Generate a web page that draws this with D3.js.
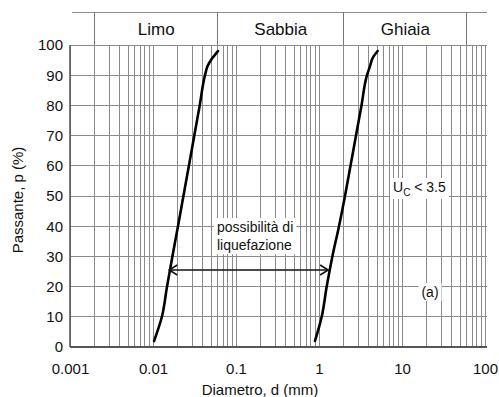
<!DOCTYPE html>
<html><head><meta charset="utf-8">
<script src="https://cdn.jsdelivr.net/npm/d3@7/dist/d3.min.js"></script>
<style>body{margin:0;background:#fff}svg{display:block}text{font-family:"Liberation Sans",Arial,sans-serif;fill:#111}</style>
</head><body><svg id="c" width="499" height="397"></svg>
<script>
const xTicks = [0.001, 0.01, 0.1, 1, 10, 100];
const xTickLabels = ["0.001", "0.01", "0.1", "1", "10", "100"];
const yTicks = [0, 10, 20, 30, 40, 50, 60, 70, 80, 90, 100];
const bandBounds = [0.002, 0.06, 2, 60];
const bandNames = ["Limo", "Sabbia", "Ghiaia"];
const curveLeftD = [0.0103, 0.0128, 0.01475, 0.01713, 0.0200, 0.02325, 0.02707, 0.03145, 0.03653, 0.04231, 0.0454, 0.0514, 0.0607];
const curveLeftP = [2, 10, 20, 30, 40, 50, 60, 70, 80, 90, 93, 95.5, 98];
const curveRightD = [0.895, 1.078, 1.238, 1.45, 1.742, 2.057, 2.396, 2.791, 3.251, 3.787, 4.117, 4.413, 5.095];
const curveRightP = [2, 10, 20, 30, 40, 50, 60, 70, 80, 90, 93, 95.6, 98];
const arrowP = 25.5;
const arrowD = [0.0157, 1.29];

const svg = d3.select("#c");
const x = d3.scaleLog().domain([0.001, 100]).range([70, 485]);
const y = d3.scaleLinear().domain([0, 100]).range([347, 45]);

// vertical grid
const vGrid = [];
[0.001, 0.01, 0.1, 1, 10].forEach(d => { for (let k = 1; k <= 9; k++) vGrid.push(+(d * k).toPrecision(3)); });
vGrid.push(100);
svg.append("g").selectAll("line").data(vGrid).join("line")
  .attr("x1", d => x(d)).attr("x2", d => x(d)).attr("y1", y(0)).attr("y2", y(100))
  .attr("stroke", "#8a8a8a").attr("stroke-width", 1).attr("shape-rendering", "crispEdges");
// horizontal grid
svg.append("g").selectAll("line").data(yTicks).join("line")
  .attr("x1", x(0.001)).attr("x2", x(100) + 2).attr("y1", d => y(d)).attr("y2", d => y(d))
  .attr("stroke", d => d === 0 ? "#555" : "#8a8a8a").attr("stroke-width", d => d === 0 ? 1.5 : 1).attr("shape-rendering", "crispEdges");
svg.append("line").attr("x1", x(0.001)).attr("x2", x(0.001)).attr("y1", y(0)).attr("y2", y(100))
  .attr("stroke", "#555").attr("stroke-width", 1.5);

// header band
const hTop = 12;
svg.append("line").attr("x1", x(0.001) + 2).attr("x2", x(100) + 2).attr("y1", hTop).attr("y2", hTop)
  .attr("stroke", "#8a8a8a").attr("shape-rendering", "crispEdges");
svg.append("g").selectAll("line").data(bandBounds).join("line")
  .attr("x1", d => x(d)).attr("x2", d => x(d)).attr("y1", hTop).attr("y2", y(100))
  .attr("stroke", "#777").attr("shape-rendering", "crispEdges");
svg.append("g").selectAll("text").data(bandNames).join("text")
  .attr("x", (d, i) => (x(bandBounds[i]) + x(bandBounds[i + 1])) / 2).attr("y", 35)
  .attr("text-anchor", "middle").attr("font-size", 17).attr("fill", "#000").text(d => d);

// axes (labels only)
const xAxis = svg.append("g").attr("transform", `translate(0,${y(0)})`)
  .call(d3.axisBottom(x).tickValues(xTicks).tickFormat((d, i) => xTickLabels[i]).tickSize(0).tickPadding(16));
xAxis.select(".domain").remove();
xAxis.selectAll("text").attr("font-size", 15).attr("font-family", "Liberation Sans, Arial, sans-serif").attr("fill", "#000");
const yAxis = svg.append("g").attr("transform", `translate(${x(0.001) - 7},0)`)
  .call(d3.axisLeft(y).tickValues(yTicks).tickSize(0).tickPadding(0));
yAxis.select(".domain").remove();
yAxis.selectAll("text").attr("font-size", 15).attr("font-family", "Liberation Sans, Arial, sans-serif").attr("fill", "#000");

svg.append("text").attr("x", 260).attr("y", 395).attr("text-anchor", "middle").attr("font-size", 15).attr("fill", "#000").text("Diametro, d (mm)");
svg.append("text").attr("transform", "translate(23,200) rotate(-90)").attr("text-anchor", "middle").attr("font-size", 15).attr("fill", "#000").text("Passante, p (%)");

// curves
const line = d3.line().x(d => x(d[0])).y(d => y(d[1])).curve(d3.curveMonotoneY);
[[curveLeftD, curveLeftP], [curveRightD, curveRightP]].forEach(([ds, ps]) => {
  svg.append("path").datum(ds.map((d, i) => [d, ps[i]])).attr("d", line)
    .attr("fill", "none").attr("stroke", "#000").attr("stroke-width", 2.6).attr("stroke-linecap", "round");
});

// text labels with white background
function label(lines, xPos, yPos, size, anchor) {
  const g = svg.append("g");
  const t = g.append("text").attr("font-size", size).attr("text-anchor", anchor || "start");
  lines.forEach((l, i) => t.append("tspan").attr("x", xPos).attr("y", yPos + i * size * 1.3).text(l));
  const bb = t.node().getBBox();
  g.insert("rect", "text").attr("x", bb.x - 3).attr("y", bb.y - 1).attr("width", bb.width + 6).attr("height", bb.height + 2).attr("fill", "#fff");
  return t;
}
label(["possibilità di", "liquefazione"], 217, 232, 14);

// arrow
const ay = y(arrowP), ax1 = x(arrowD[0]), ax2 = x(arrowD[1]);
svg.append("line").attr("x1", ax1).attr("x2", ax2).attr("y1", ay).attr("y2", ay).attr("stroke", "#111").attr("stroke-width", 1.3);
svg.append("path").attr("d", `M${ax1 + 8},${ay - 5}L${ax1},${ay}L${ax1 + 8},${ay + 5}M${ax2 - 8},${ay - 5}L${ax2},${ay}L${ax2 - 8},${ay + 5}`)
  .attr("fill", "none").attr("stroke", "#111").attr("stroke-width", 1.6);

// Uc < 3.5
{
  const g = svg.append("g");
  const t = g.append("text").attr("x", 393).attr("y", 192).attr("font-size", 14);
  t.append("tspan").text("U");
  t.append("tspan").attr("font-size", 10).attr("dy", 4).text("C");
  t.append("tspan").attr("dy", -4).text(" < 3.5");
  const bb = t.node().getBBox();
  g.insert("rect", "text").attr("x", bb.x - 3).attr("y", bb.y - 1).attr("width", bb.width + 6).attr("height", bb.height + 2).attr("fill", "#fff");
}
label(["(a)"], 430, 297, 14, "middle");
</script></body></html>
